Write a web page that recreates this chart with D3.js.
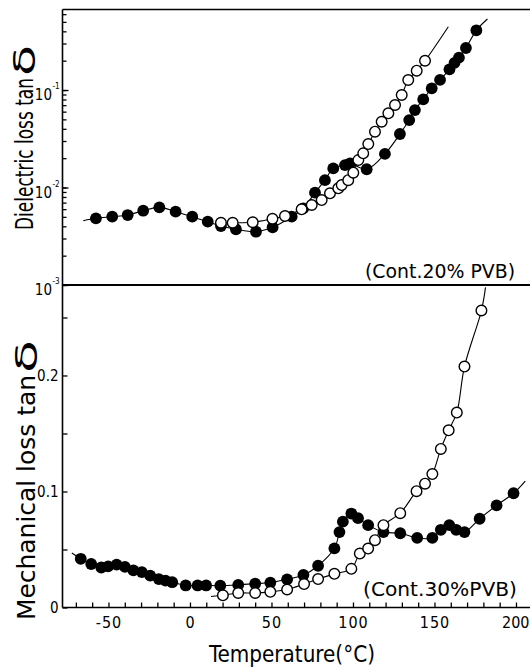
<!DOCTYPE html>
<html>
<head>
<meta charset="utf-8">
<script src="https://cdn.jsdelivr.net/npm/d3@7"></script>
<style>
  body { margin: 0; background: #fff; }
  svg text { font-family: "DejaVu Sans Condensed", "DejaVu Sans", sans-serif; fill: #000; }
</style>
</head>
<body>
<svg id="chart" width="530" height="671"></svg>
<script>
// Temperatures (°C) and loss values.
// Upper panel: dielectric loss tan δ (20% PVB), log scale.
const dielFilledT = [-57.7, -47.7, -38.2, -28.7, -18.8, -8.8, 1.4, 10.9, 19, 28.2, 40.5, 50.7, 62.4, 69.5, 76.7, 82.8, 87.9, 95.1, 98.2, 108.4, 119.6, 128.8, 134.5, 138, 143.1, 148.3, 153.4, 159.2, 162.3, 165, 169.3, 175.7];
const dielFilledV = [0.00483, 0.00502, 0.00522, 0.00578, 0.00626, 0.00565, 0.00502, 0.00446, 0.00403, 0.00373, 0.00352, 0.00391, 0.00502, 0.00612, 0.00885, 0.0119, 0.0157, 0.0170, 0.0177, 0.0154, 0.0221, 0.0354, 0.0492, 0.0623, 0.0803, 0.104, 0.127, 0.163, 0.19, 0.215, 0.27, 0.41];
const dielFilledEnds = [[-65.5, 0.00456], [182.5, 0.535]];
const dielOpenT = [19, 26.2, 38.5, 50.6, 58.3, 68.5, 74.7, 80.8, 85.9, 91, 93.1, 97.1, 100.2, 103.3, 106.3, 109.4, 113.5, 117.6, 121.7, 125.8, 129.9, 133.9, 139.1, 144.2];
const dielOpenV = [0.00435, 0.00435, 0.0044, 0.00478, 0.0051, 0.00598, 0.00662, 0.00744, 0.00872, 0.00982, 0.0106, 0.0119, 0.0142, 0.0191, 0.0224, 0.0279, 0.0374, 0.0473, 0.0577, 0.0702, 0.0889, 0.1268, 0.1578, 0.1997];
const dielOpenEnds = [null, [158.5, 0.446]];

// Lower panel: mechanical loss tan δ (30% PVB), linear scale.
const mechFilledT = [-67, -60.6, -54.4, -50.2, -45, -39.9, -34.7, -29.5, -24.4, -19.1, -15, -10.9, -2.6, 4.7, 9.9, 18.6, 29.6, 40, 49.3, 59.6, 69.6, 78.6, 88.6, 91.7, 93.8, 99, 103.1, 109.3, 118.7, 129, 139.4, 148.7, 153.9, 159.1, 163.3, 168.4, 177.7, 188.1, 198.5];
const mechFilledV = [0.042, 0.0375, 0.0345, 0.0355, 0.037, 0.035, 0.032, 0.0305, 0.0275, 0.0245, 0.0232, 0.0218, 0.019, 0.019, 0.019, 0.0188, 0.0195, 0.0205, 0.0215, 0.0243, 0.028, 0.036, 0.051, 0.065, 0.074, 0.081, 0.077, 0.071, 0.065, 0.064, 0.060, 0.060, 0.067, 0.071, 0.067, 0.065, 0.0765, 0.088, 0.0985];
const mechFilledEnds = [[-72.5, 0.047], [205.7, 0.109]];
const mechOpenT = [20.2, 29.6, 40, 49.3, 59.6, 70, 78.6, 88.6, 99, 104.2, 109.3, 113.5, 118.7, 129, 139, 144.2, 148.7, 153.9, 158.7, 163.7, 168.4, 178.8];
const mechOpenV = [0.0105, 0.0125, 0.0125, 0.0135, 0.0155, 0.0202, 0.0245, 0.029, 0.0333, 0.0465, 0.0508, 0.058, 0.071, 0.0813, 0.1003, 0.1067, 0.115, 0.1367, 0.1527, 0.168, 0.2077, 0.256];
const mechOpenEnds = [[12.9, 0.0095], [181.3, 0.276]];

// Tick values and labels.
const tempTicks = d3.range(-70, 201, 10);
const tempLabels = [-50, 0, 50, 100, 150, 200];
const mechTicks = [0, 0.05, 0.1, 0.15, 0.2, 0.25];
const mechLabels = { 0: "0", 0.1: "0.1", 0.2: "0.2" };
const dielDecades = [1e-3, 1e-2, 1e-1];
const dielExponents = ["-3", "-2", "-1"];

const svg = d3.select("#chart");

// Scales: shared temperature axis, log for the upper panel, linear for the lower one.
const x = d3.scaleLinear().domain([-78.2, 208.6]).range([62.5, 530]);
const yDiel = d3.scaleLog().domain([1e-3, 0.67]).range([285, 9.5]);
const yMech = d3.scaleLinear().domain([0, 0.278]).range([607.5, 285]);

// Frame: left axis, top border, panel separator, bottom axis.
const frame = svg.append("g").attr("stroke", "#000");
frame.append("line").attr("x1", x.range()[0]).attr("x2", x.range()[0])
  .attr("y1", yDiel.range()[1]).attr("y2", yMech.range()[0]).attr("stroke-width", 1.6);
frame.append("line").attr("x1", x.range()[0]).attr("x2", x.range()[1])
  .attr("y1", yDiel.range()[1]).attr("y2", yDiel.range()[1]).attr("stroke-width", 1.6);
frame.append("line").attr("x1", x.range()[0]).attr("x2", x.range()[1])
  .attr("y1", yDiel.range()[0]).attr("y2", yDiel.range()[0]).attr("stroke-width", 2);
frame.append("line").attr("x1", x.range()[0]).attr("x2", x.range()[1])
  .attr("y1", yMech.range()[0]).attr("y2", yMech.range()[0]).attr("stroke-width", 1.6);

// Temperature axis, ticks pointing inward.
const xAxis = svg.append("g")
  .attr("transform", `translate(0,${yMech.range()[0]})`)
  .call(d3.axisBottom(x).tickValues(tempTicks).tickSizeInner(-5).tickSizeOuter(0).tickPadding(9)
    .tickFormat(d => tempLabels.includes(d) ? String(d) : ""));
xAxis.select(".domain").remove();
xAxis.attr("font-size", 16).attr("font-family", null);
xAxis.selectAll("line").attr("stroke-width", 1.3);
xAxis.selectAll("text").style("letter-spacing", "1px");
// The last label sits against the right edge, as in the scan.
xAxis.selectAll(".tick").filter(d => d === 200).select("text")
  .style("letter-spacing", "0px")
  .attr("text-anchor", "end")
  .attr("dx", 13);

// Mechanical loss axis.
const mechAxis = svg.append("g")
  .attr("transform", `translate(${x.range()[0]},0)`)
  .call(d3.axisLeft(yMech).tickValues(mechTicks).tickSizeInner(-5).tickSizeOuter(0).tickPadding(4)
    .tickFormat(d => mechLabels[d] || ""));
mechAxis.select(".domain").remove();
mechAxis.attr("font-size", 15).attr("font-family", null);
mechAxis.selectAll("line").attr("stroke-width", 1.3);

// Dielectric loss axis: minor log ticks plus longer decade ticks.
const dielAxis = svg.append("g")
  .attr("transform", `translate(${x.range()[0]},0)`)
  .call(d3.axisLeft(yDiel).tickValues(yDiel.ticks()).tickSizeInner(-4).tickSizeOuter(0).tickFormat(""));
dielAxis.select(".domain").remove();
dielAxis.selectAll("line").attr("stroke-width", 1.3);
const dielMajor = svg.append("g")
  .attr("transform", `translate(${x.range()[0]},0)`)
  .call(d3.axisLeft(yDiel).tickValues(dielDecades).tickSizeInner(-6).tickSizeOuter(0).tickFormat(""));
dielMajor.select(".domain").remove();
dielMajor.selectAll("line").attr("stroke-width", 1.3);

// Decade labels written as 10 with a small exponent to its upper right.
const decadeLabels = svg.append("g").selectAll("g")
  .data(dielDecades)
  .join("g");
decadeLabels.append("text")
  .attr("x", 52).attr("y", d => yDiel(d) + 10)
  .attr("text-anchor", "end").attr("font-size", 15)
  .text("10");
decadeLabels.append("text")
  .attr("x", 52.5).attr("y", d => yDiel(d) - 1)
  .attr("font-size", 8)
  .text((d, i) => dielExponents[i]);

// Curves and markers.
const lineGroup = svg.append("g");
const markGroup = svg.append("g");

function drawSeries(y, ts, vs, ends, filled) {
  const pts = ts.map((t, i) => [t, vs[i]]);
  const linePts = [ends[0], ...pts, ends[1]].filter(Boolean);
  const line = d3.line()
    .x(d => x(d[0]))
    .y(d => y(d[1]))
    .curve(d3.curveCatmullRom.alpha(0.5));
  lineGroup.append("path")
    .datum(linePts)
    .attr("d", line)
    .attr("fill", "none")
    .attr("stroke", "#000")
    .attr("stroke-width", 1.1);
  return { pts, y, filled };
}

const series = [
  drawSeries(yDiel, dielFilledT, dielFilledV, dielFilledEnds, true),
  drawSeries(yMech, mechFilledT, mechFilledV, mechFilledEnds, true),
  drawSeries(yDiel, dielOpenT, dielOpenV, dielOpenEnds, false),
  drawSeries(yMech, mechOpenT, mechOpenV, mechOpenEnds, false)
];

// Filled markers first, open ones on top.
series.forEach(s => {
  markGroup.append("g").selectAll("circle")
    .data(s.pts)
    .join("circle")
    .attr("cx", d => x(d[0]))
    .attr("cy", d => s.y(d[1]))
    .attr("r", s.filled ? 5.9 : 5.3)
    .attr("fill", s.filled ? "#000" : "#fff")
    .attr("stroke", "#000")
    .attr("stroke-width", s.filled ? 0 : 1.4);
});

// Sample notes inside each panel.
svg.append("text")
  .attr("x", 365).attr("y", 278)
  .attr("font-size", 19)
  .attr("textLength", 150).attr("lengthAdjust", "spacingAndGlyphs")
  .text("(Cont.20% PVB)");
svg.append("text")
  .attr("x", 363).attr("y", 596)
  .attr("font-size", 19)
  .attr("textLength", 154).attr("lengthAdjust", "spacingAndGlyphs")
  .text("(Cont.30%PVB)");

// Axis titles, tall and narrow like the original lettering.
function yTitle(label, baseX, bottomY, len, deltaBottom, deltaTop) {
  svg.append("text")
    .attr("transform", `translate(${baseX},${bottomY}) rotate(-90)`)
    .attr("font-size", 25)
    .attr("textLength", len).attr("lengthAdjust", "spacingAndGlyphs")
    .text(label);
  svg.append("text")
    .attr("transform", `translate(${baseX + 2},${deltaBottom}) rotate(-90)`)
    .attr("font-size", 30)
    .attr("textLength", deltaBottom - deltaTop).attr("lengthAdjust", "spacingAndGlyphs")
    .text("δ");
}
yTitle("Dielectric loss tan", 33, 230, 152, 76, 45);
yTitle("Mechanical loss tan", 35, 620, 245, 373, 340);

svg.append("text")
  .attr("x", 209).attr("y", 662)
  .attr("font-size", 23)
  .attr("textLength", 166).attr("lengthAdjust", "spacingAndGlyphs")
  .text("Temperature(°C)");
</script>
</body>
</html>
